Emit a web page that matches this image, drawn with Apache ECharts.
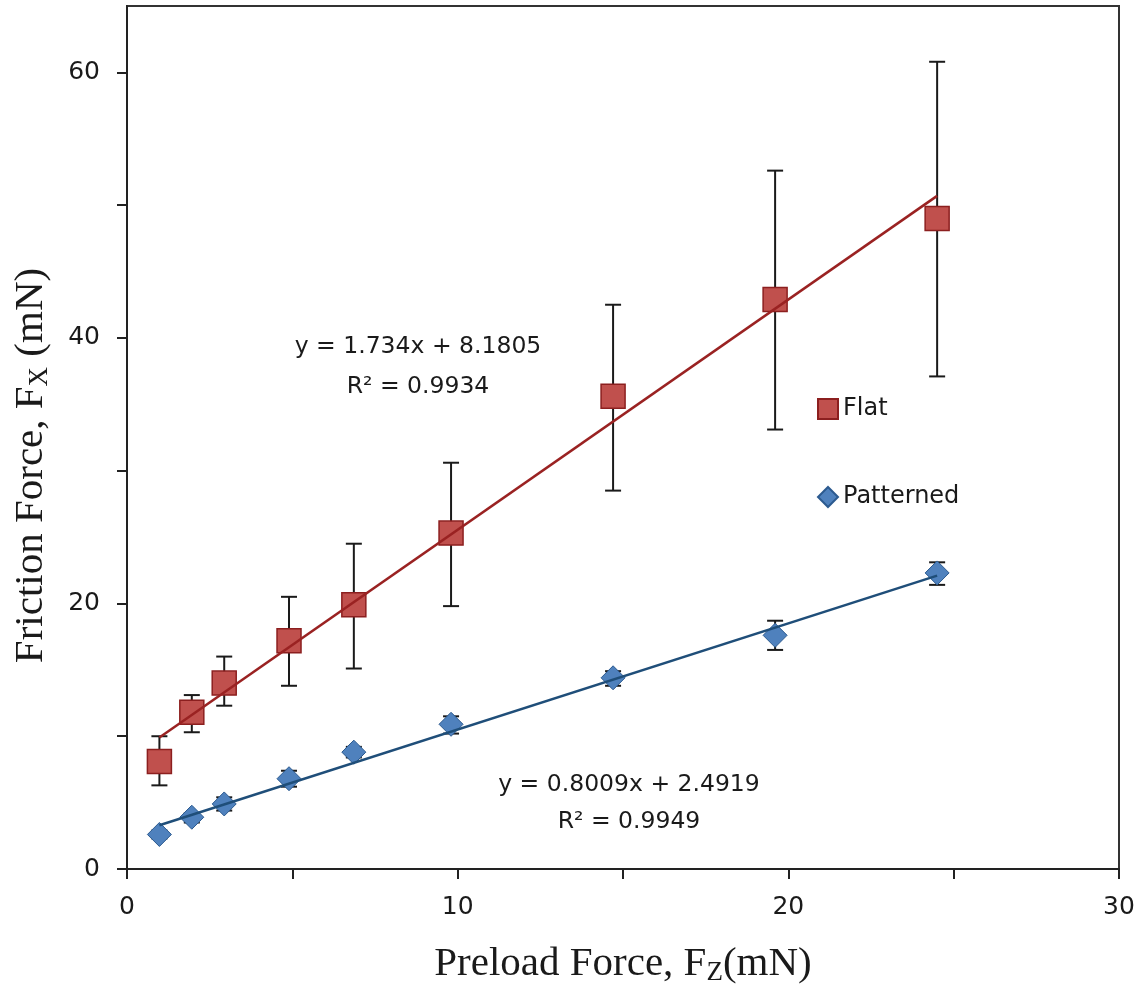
<!DOCTYPE html>
<html>
<head>
<meta charset="utf-8">
<script src="https://cdn.jsdelivr.net/npm/echarts@6/dist/echarts.min.js"></script>
<style>
  html, body { margin: 0; padding: 0; background: #fff; }
  #chart { width: 1143px; height: 989px; }
</style>
</head>
<body>
<div id="chart"></div>
<script>
// preload force (mN) for both samples
var preload = [0.98, 1.96, 2.94, 4.9, 6.86, 9.8, 14.7, 19.6, 24.5];

// flat sample: mean friction and error bar ends
var flatMean = [8.1, 11.8, 14.0, 17.2, 19.9, 25.3, 35.6, 42.9, 49.0];
var flatLow  = [6.3, 10.3, 12.3, 13.8, 15.1, 19.8, 28.5, 33.1, 37.1];
var flatHigh = [10.0, 13.1, 16.0, 20.5, 24.5, 30.6, 42.5, 52.6, 60.8];

// patterned sample
var patMean = [2.6, 3.9, 4.9, 6.8, 8.8, 10.9, 14.4, 17.6, 22.3];
var patLow  = [2.3, 3.5, 4.4, 6.2, 8.4, 10.2, 13.8, 16.5, 21.4];
var patHigh = [2.9, 4.2, 5.4, 7.4, 9.2, 11.5, 14.9, 18.7, 23.1];

// linear trend lines, end points
var fitX = [0.98, 24.5];
var flatFitY = [9.9, 50.7];
var patFitY = [3.3, 22.1];

// axis ticks
var xTicks = [0, 5, 10, 15, 20, 25, 30];
var xLabels = [0, 10, 20, 30];
var yTicks = [0, 10, 20, 30, 40, 50, 60];
var yLabels = [0, 20, 40, 60];

var flatEq = ['y = 1.734x + 8.1805', 'R\u00b2 = 0.9934'];
var patEq = ['y = 0.8009x + 2.4919', 'R\u00b2 = 0.9949'];

function zip(xs, ys) {
    return xs.map(function (x, i) { return [x, ys[i]]; });
}
function zip3(xs, lo, hi) {
    return xs.map(function (x, i) { return [x, lo[i], hi[i]]; });
}

// vertical error bar with caps
function errorBar(params, api) {
    var top = api.coord([api.value(0), api.value(2)]);
    var bot = api.coord([api.value(0), api.value(1)]);
    var w = 8;
    var st = { stroke: '#1a1a1a', lineWidth: 2 };
    return {
        type: 'group',
        children: [
            { type: 'line', shape: { x1: top[0], y1: top[1], x2: bot[0], y2: bot[1] }, style: st },
            { type: 'line', shape: { x1: top[0] - w, y1: top[1], x2: top[0] + w, y2: top[1] }, style: st },
            { type: 'line', shape: { x1: bot[0] - w, y1: bot[1], x2: bot[0] + w, y2: bot[1] }, style: st }
        ]
    };
}

var chart = echarts.init(document.getElementById('chart'));

var tickFont = 'DejaVu Sans';
var titleFont = 'Liberation Serif';

var option = {
    backgroundColor: '#fff',
    animation: false,
    grid: {
        left: 127, right: 24, top: 6, bottom: 120,
        show: true, borderColor: '#333', borderWidth: 2,
        containLabel: false, outerBoundsMode: 'none'
    },
    xAxis: {
        type: 'value', min: 0, max: 30, interval: 5,
        splitLine: { show: false },
        axisLine: { onZero: false, lineStyle: { color: '#222', width: 2 } },
        axisTick: { customValues: xTicks, length: 10, lineStyle: { color: '#222', width: 2 } },
        axisLabel: { customValues: xLabels, margin: 26, color: '#1a1a1a', fontFamily: tickFont, fontSize: 25 },
        name: 'Preload Force, F{sub|Z}(mN)',
        nameLocation: 'middle', nameGap: 74,
        nameTextStyle: {
            fontFamily: titleFont, fontSize: 41, color: '#1a1a1a',
            rich: { sub: { fontFamily: titleFont, fontSize: 27, color: '#1a1a1a', verticalAlign: 'bottom', padding: [16, 0, 0, 0] } }
        }
    },
    yAxis: {
        type: 'value', min: 0, max: 65, interval: 10,
        splitLine: { show: false },
        axisLine: { onZero: false, lineStyle: { color: '#222', width: 2 } },
        axisTick: { customValues: yTicks, length: 10, lineStyle: { color: '#222', width: 2 } },
        axisLabel: { customValues: yLabels, margin: 27, color: '#1a1a1a', fontFamily: tickFont, fontSize: 25 },
        name: 'Friction Force, F{sub|X} (mN)',
        nameLocation: 'middle', nameGap: 74, nameRotate: 90,
        nameTextStyle: {
            fontFamily: titleFont, fontSize: 41, color: '#1a1a1a', padding: [0, 56, 0, 0],
            rich: { sub: { fontFamily: titleFont, fontSize: 27, color: '#1a1a1a', verticalAlign: 'bottom', padding: [16, 0, 0, 0] } }
        }
    },
    legend: {
        orient: 'vertical', left: 812, top: 392,
        itemWidth: 20, itemHeight: 20, itemGap: 64,
        textStyle: { fontFamily: tickFont, fontSize: 24, color: '#1a1a1a', lineHeight: 20 },
        data: [
            { name: 'Flat', icon: 'rect' },
            { name: 'Patterned', icon: 'diamond' }
        ]
    },
    graphic: [
        { type: 'text', x: 418, y: 367, z: 10,
          style: { text: flatEq.join('\n'), font: '23.5px "DejaVu Sans"', fill: '#1a1a1a', align: 'center', verticalAlign: 'middle', lineHeight: 40 } },
        { type: 'text', x: 629, y: 803, z: 10,
          style: { text: patEq.join('\n'), font: '23.5px "DejaVu Sans"', fill: '#1a1a1a', align: 'center', verticalAlign: 'middle', lineHeight: 37 } }
    ],
    series: [
        {
            name: 'Flat error', type: 'custom', z: 1,
            renderItem: errorBar, data: zip3(preload, flatLow, flatHigh),
            encode: { x: 0, y: [1, 2] }, silent: true
        },
        {
            name: 'Patterned error', type: 'custom', z: 1,
            renderItem: errorBar, data: zip3(preload, patLow, patHigh),
            encode: { x: 0, y: [1, 2] }, silent: true
        },
        {
            name: 'Flat', type: 'scatter', z: 2,
            symbol: 'rect', symbolSize: 24,
            itemStyle: { color: '#C0504D', borderColor: '#8C1F1F', borderWidth: 1.5, opacity: 1 },
            data: zip(preload, flatMean)
        },
        {
            name: 'Patterned', type: 'scatter', z: 2,
            symbol: 'diamond', symbolSize: 24,
            itemStyle: { color: '#4F81BD', borderColor: '#2C5A8F', borderWidth: 1, opacity: 1 },
            data: zip(preload, patMean)
        },
        {
            name: 'Flat fit', type: 'line', z: 3,
            symbol: 'none', lineStyle: { color: '#9A2222', width: 2.5 },
            data: zip(fitX, flatFitY)
        },
        {
            name: 'Patterned fit', type: 'line', z: 3,
            symbol: 'none', lineStyle: { color: '#1F4E79', width: 2.5 },
            data: zip(fitX, patFitY)
        }
    ]
};

chart.setOption(option);
</script>
</body>
</html>
